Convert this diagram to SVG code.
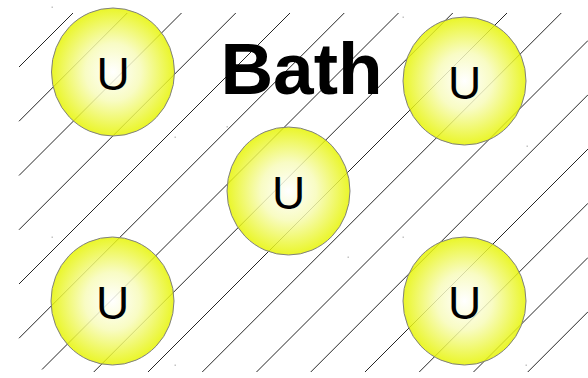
<svg xmlns="http://www.w3.org/2000/svg" width="588" height="378" viewBox="0 0 588 378">
<style>
.hatch line{stroke:#262626;stroke-width:1;}
.ball{fill:url(#g);fill-opacity:0.84;stroke:#808080;stroke-width:1;}
.lbl{font-family:"Liberation Sans",Arial,sans-serif;font-size:46px;fill:#000;text-anchor:middle;}
.dot{fill:#c4c4c4;}
.title{font-family:"Liberation Sans",Arial,sans-serif;font-size:73px;font-weight:bold;fill:#000;text-anchor:middle;}
</style>
<defs>
<radialGradient id="g" cx="50%" cy="50%" r="50%">
<stop offset="0" stop-color="#ffffff"/>
<stop offset="0.45" stop-color="#f7fbb8"/>
<stop offset="1" stop-color="#e6f400"/>
</radialGradient>
</defs>
<rect width="588" height="378" fill="#fff"/>
<g id="connectors" class="hatch">
<line x1="19" y1="67" x2="73" y2="13"/>
<line x1="19" y1="121.25" x2="127.25" y2="13"/>
<line x1="19" y1="175.5" x2="181.5" y2="13"/>
<line x1="19" y1="229.75" x2="235.75" y2="13"/>
<line x1="19" y1="284" x2="290" y2="13"/>
<line x1="19" y1="338.25" x2="344.25" y2="13"/>
<line x1="42" y1="369.5" x2="398.5" y2="13"/>
<line x1="93.75" y1="372" x2="452.75" y2="13"/>
<line x1="148" y1="372" x2="507" y2="13"/>
<line x1="202.25" y1="372" x2="561.25" y2="13"/>
<line x1="256.5" y1="372" x2="588" y2="40.5"/>
<line x1="310.75" y1="372" x2="588" y2="94.75"/>
<line x1="365" y1="372" x2="588" y2="149"/>
<line x1="419.25" y1="372" x2="588" y2="203.25"/>
<line x1="473.5" y1="372" x2="588" y2="257.5"/>
<line x1="527.75" y1="372" x2="588" y2="311.75"/>
</g>
<g id="title"><text class="title" x="301.5" y="94">Bath</text></g>
<g id="node1">
<rect class="dot" x="51.5" y="6.5" width="1.5" height="1.5"/><rect class="dot" x="174.5" y="136.5" width="1.5" height="1.5"/>
<ellipse class="ball" cx="113" cy="72" rx="61.5" ry="64"/>
<text class="lbl" x="113" y="89.5">U</text>
</g>
<g id="node2">
<rect class="dot" x="402.5" y="16.5" width="1.5" height="1.5"/><rect class="dot" x="526.5" y="145.5" width="1.5" height="1.5"/>
<ellipse class="ball" cx="464.5" cy="81" rx="61.5" ry="64"/>
<text class="lbl" x="464.5" y="98.5">U</text>
</g>
<g id="node3">
<rect class="dot" x="226.5" y="126" width="1.5" height="1.5"/><rect class="dot" x="347.5" y="256.5" width="1.5" height="1.5"/>
<ellipse class="ball" cx="288.5" cy="191" rx="61.5" ry="64"/>
<text class="lbl" x="288.5" y="208.5">U</text>
</g>
<g id="node4">
<rect class="dot" x="51.5" y="236.5" width="1.5" height="1.5"/><rect class="dot" x="174.5" y="364.5" width="1.5" height="1.5"/>
<ellipse class="ball" cx="112.5" cy="301" rx="61.5" ry="64"/>
<text class="lbl" x="112.5" y="318.5">U</text>
</g>
<g id="node5">
<rect class="dot" x="402.5" y="236.5" width="1.5" height="1.5"/><rect class="dot" x="525.5" y="364.5" width="1.5" height="1.5"/>
<ellipse class="ball" cx="464.5" cy="301" rx="61.5" ry="64"/>
<text class="lbl" x="464.5" y="318.5">U</text>
</g>
</svg>
